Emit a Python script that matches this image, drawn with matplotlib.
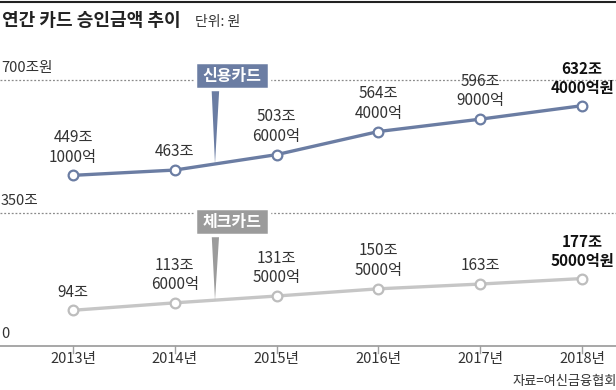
import matplotlib.pyplot as plt
import numpy as np
from matplotlib.patches import Polygon, Rectangle

plt.rcParams["font.family"] = ["Noto Sans CJK KR", "DejaVu Sans"]

years = ["2013년", "2014년", "2015년", "2016년", "2017년", "2018년"]
credit = [449.1, 463.0, 503.6, 564.4, 596.9, 632.4]
check = [94.0, 113.6, 131.5, 150.5, 163.0, 177.5]
credit_labels = ["449조\n1000억", "463조", "503조\n6000억", "564조\n4000억", "596조\n9000억", "632조\n4000억원"]
check_labels = ["94조", "113조\n6000억", "131조\n5000억", "150조\n5000억", "163조", "177조\n5000억원"]

credit_col = "#6b7da3"
check_col = "#c6c6c6"
check_box = "#9b9b9b"

W, H = 616, 390
fig = plt.figure(figsize=(W / 100, H / 100), dpi=100)
ax = fig.add_axes([0, 0, 1, 1])

# pixel layout: 2013 at x=73, 2018 at x=582; 0 at y=346, 700 at y=80
x0, dx = 73, (582 - 73) / 5
y0, dy = 346, (346 - 80) / 700
ax.set_xlim(-x0 / dx, (W - x0) / dx)
ax.set_ylim(-(H - y0) / dy, y0 / dy)
ax.axis("off")

xs = np.arange(len(years))

# reference lines
for v, lab in [(700, "700조원"), (350, "350조")]:
    ax.axhline(v, color="#8a8a8a", lw=0.9, ls=(0, (1.5, 1.5)), zorder=1)
    ax.text(-x0 / dx + 0.01, v + 13, lab, fontsize=10.5, color="#333333", va="bottom", ha="left")
ax.text(-x0 / dx + 0.01, 13, "0", fontsize=10.5, color="#333333", va="bottom", ha="left")

# baseline and ticks
ax.axhline(0, color="#a0a0a0", lw=1.3, zorder=2)
for x, lab in zip(xs, years):
    ax.plot([x, x], [0, -18], color="#a0a0a0", lw=1, zorder=2)
    ax.text(x, -34, lab, fontsize=10.5, color="#333333", ha="center", va="center")

# series
ax.plot(xs, credit, color=credit_col, lw=2.4, zorder=3,
        marker="o", ms=7, mfc="white", mec=credit_col, mew=1.6)
ax.plot(xs, check, color=check_col, lw=2.4, zorder=3,
        marker="o", ms=7, mfc="white", mec="#bdbdbd", mew=1.6)

for series, labels in [(credit, credit_labels), (check, check_labels)]:
    for i, (x, v, lab) in enumerate(zip(xs, series, labels)):
        last = i == len(xs) - 1
        ax.annotate(lab, (x, v), xytext=(0, 7), textcoords="offset points",
                    ha="center", va="bottom", fontsize=11, linespacing=1.2,
                    color="#111111" if last else "#333333",
                    fontweight="bold" if last else "normal")


def callout(text, color, cy, series):
    bx0, bx1 = (195 - x0) / dx, (269 - x0) / dx
    h = 27 / dy
    tip_x = (215 - x0) / dx
    tip_y = np.interp(tip_x, xs, series)
    ax.add_patch(Polygon([[tip_x - 4 / dx, cy], [tip_x + 5 / dx, cy], [tip_x, tip_y]],
                         closed=True, color=color, zorder=4, lw=0))
    ax.add_patch(Rectangle((bx0, cy - h / 2), bx1 - bx0, h, facecolor=color,
                           edgecolor="white", lw=2.5, zorder=5))
    ax.text((bx0 + bx1) / 2, cy, text, color="white", fontsize=11.5, fontweight="bold",
            ha="center", va="center", zorder=6)


callout("신용카드", credit_col, 711, credit)
callout("체크카드", check_box, 327, check)

# header
fig.add_artist(plt.Line2D([0, 1], [1 - 2 / H, 1 - 2 / H], color="#222222", lw=1.5))
fig.text(2 / W, 1 - 21 / H, "연간 카드 승인금액 추이", fontsize=13, fontweight="bold",
         color="#222222", va="center", ha="left")
fig.text(195 / W, 1 - 22 / H, "단위: 원", fontsize=10, color="#333333", va="center", ha="left")
fig.text(513 / W, 1 - 381 / H, "자료=여신금융협회", fontsize=9.5, color="#333333", va="center", ha="left")

fig.savefig("out.png", dpi=100)
